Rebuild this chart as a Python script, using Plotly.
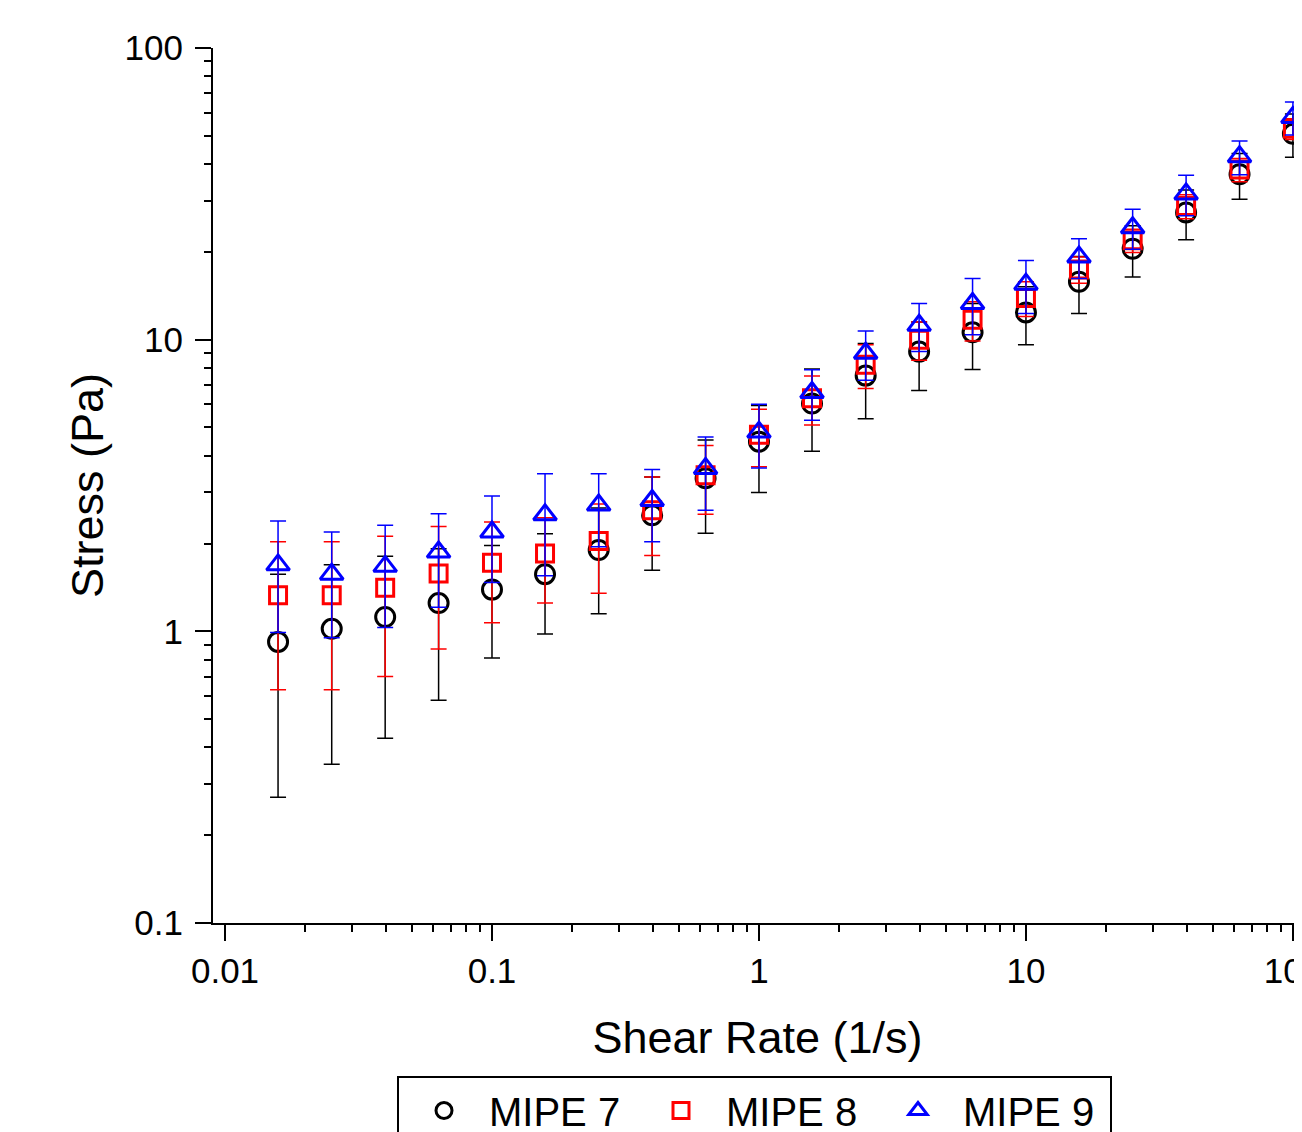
import plotly.graph_objects as go

# Shear rate (1/s)
shear_rate = [0.0158, 0.0251, 0.0398, 0.0631, 0.1, 0.158, 0.251, 0.398, 0.631, 1.0,
              1.58, 2.51, 3.98, 6.31, 10.0, 15.8, 25.1, 39.8, 63.1, 100.0]

# MIPE 7 (black circles)
stress_7 = [0.92, 1.02, 1.12, 1.25, 1.39, 1.57, 1.90, 2.50, 3.35, 4.47,
            6.04, 7.53, 9.10, 10.6, 12.4, 15.8, 20.5, 27.3, 36.9, 50.8]
err_7 = [0.65, 0.67, 0.69, 0.67, 0.58, 0.59, 0.75, 0.88, 1.18, 1.48,
         1.9, 2.17, 2.4, 2.7, 2.8, 3.5, 4.1, 5.3, 6.6, 8.6]

# MIPE 8 (red squares)
stress_8 = [1.33, 1.33, 1.41, 1.58, 1.72, 1.85, 2.04, 2.60, 3.43, 4.72,
            6.30, 8.20, 10.0, 11.7, 13.9, 17.4, 21.9, 28.7, 38.3, 52.9]
err_8 = [0.70, 0.70, 0.71, 0.71, 0.65, 0.60, 0.69, 0.78, 0.91, 1.05,
         1.2, 1.4, 1.5, 1.8, 1.9, 1.8, 2.0, 2.7, 3.5, 4.3]

# MIPE 9 (blue triangles)
stress_9 = [1.69, 1.57, 1.67, 1.87, 2.19, 2.51, 2.71, 2.81, 3.62, 4.82,
            6.59, 8.98, 11.2, 13.3, 15.5, 19.2, 24.2, 31.6, 42.4, 57.8]
err_9 = [0.70, 0.62, 0.64, 0.66, 0.72, 0.96, 0.76, 0.78, 1.02, 1.19,
         1.30, 1.72, 2.1, 2.9, 3.2, 3.0, 3.8, 5.0, 5.6, 7.5]

series = [
    ("MIPE 7", stress_7, err_7, "#000000", "circle-open", 19),
    ("MIPE 8", stress_8, err_8, "#FF0000", "square-open", 17),
    ("MIPE 9", stress_9, err_9, "#0000FF", "triangle-up-open", 20),
]

FONT = "Liberation Sans, Arial, sans-serif"

fig = go.Figure()
for name, ys, es, color, symbol, size in series:
    fig.add_trace(go.Scatter(
        x=shear_rate, y=ys, name=name, mode="markers",
        marker=dict(symbol=symbol, size=size, color=color,
                    line=dict(color=color, width=3)),
        error_y=dict(type="data", array=es, visible=True, color=color,
                     thickness=1.5, width=8),
        cliponaxis=False,
    ))

axis_common = dict(
    type="log", showline=True, linewidth=2, linecolor="black",
    ticks="outside", ticklen=16, tickwidth=2, tickcolor="black",
    dtick=1, showgrid=False, zeroline=False, mirror=False,
    ticklabeloverflow="allow",
    tickfont=dict(family=FONT, size=35, color="black"),
    minor=dict(ticks="outside", ticklen=7, tickwidth=2, tickcolor="black",
               dtick="D1", showgrid=False),
)

fig.update_layout(
    width=1294, height=1124,
    margin=dict(l=205, r=0, t=40, b=209, autoexpand=False),
    paper_bgcolor="white", plot_bgcolor="white",
    font=dict(family=FONT, color="black"),
    xaxis=dict(**axis_common, range=[-2.045, 2.034], ticklabelstandoff=0,
               title=dict(text="Shear Rate (1/s)", standoff=32,
                          font=dict(family=FONT, size=45, color="black"))),
    yaxis=dict(**axis_common, range=[-1, 2], ticklabelstandoff=5,
               title=dict(text="Stress (Pa)", standoff=7,
                          font=dict(family=FONT, size=45, color="black"))),
    legend=dict(orientation="h", x=(389 - 205) / 1089, y=-153 / 875,
                xanchor="left", yanchor="top",
                bordercolor="black", borderwidth=2, bgcolor="white",
                font=dict(family=FONT, size=40, color="black"),
                entrywidth=142, entrywidthmode="pixels", itemwidth=80),
    showlegend=True,
)

fig.write_html("out.html")
